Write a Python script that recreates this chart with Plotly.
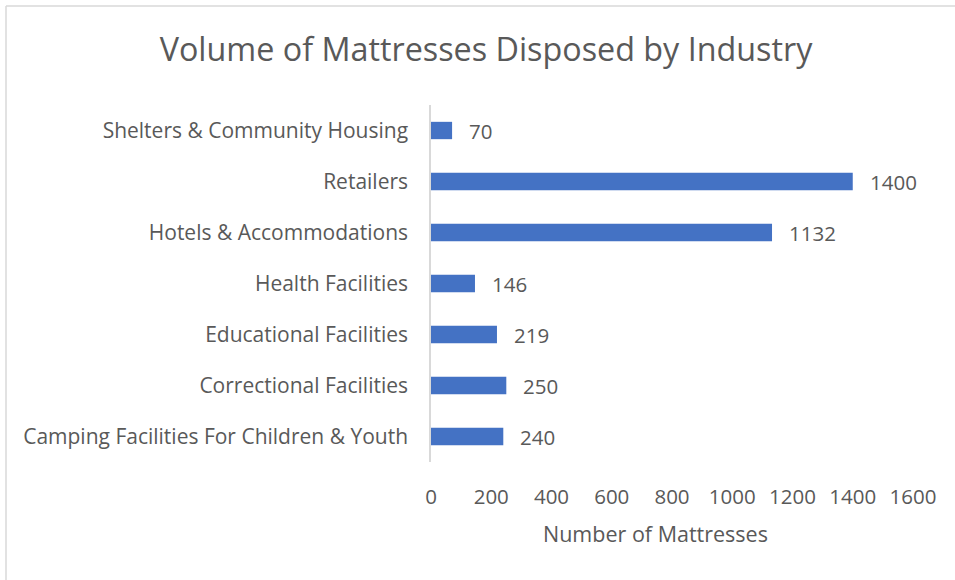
import plotly.graph_objects as go

categories = [
    "Camping Facilities For Children & Youth",
    "Correctional Facilities",
    "Educational Facilities",
    "Health Facilities",
    "Hotels & Accommodations",
    "Retailers",
    "Shelters & Community Housing",
]
values = [240, 250, 219, 146, 1132, 1400, 70]
x_ticks = [0, 200, 400, 600, 800, 1000, 1200, 1400, 1600]

FONT = "Open Sans"
GREY = "#595959"
W, H = 955, 580
L, R, T, B = 431, 42, 105, 118
pw, ph = W - L - R, H - T - B

fig = go.Figure(go.Bar(
    x=values, y=categories, orientation="h",
    marker=dict(color="#4472C4", line=dict(width=0)),
    width=0.34, hoverinfo="x+y",
))

for c, v in zip(categories, values):
    fig.add_annotation(x=v, y=c, xref="x", yref="y", text=str(v),
                       showarrow=False, xanchor="left", xshift=15,
                       font=dict(family=FONT, size=20.5, color=GREY))

fig.add_annotation(xref="paper", yref="paper", x=(655 - L) / pw, y=(T + ph - 533) / ph,
                   text="Number of Mattresses", showarrow=False, xanchor="center", yanchor="middle",
                   font=dict(family=FONT, size=21.5, color=GREY))

bx = (6 - L) / pw
by = 1 + (T - 6) / ph
fig.add_shape(type="line", xref="paper", yref="paper", x0=bx, y0=by, x1=bx, y1=-1,
              line=dict(color="#d9d9d9", width=1.5))
fig.add_shape(type="line", xref="paper", yref="paper", x0=bx, y0=by, x1=2, y1=by,
              line=dict(color="#d9d9d9", width=1.5))

fig.update_layout(
    width=W, height=H,
    margin=dict(l=L, r=R, t=T, b=B),
    paper_bgcolor="white", plot_bgcolor="white",
    title=dict(text="Volume of Mattresses Disposed by Industry", x=486 / W, xref="container",
               xanchor="center", y=1 - 50 / H, yanchor="middle",
               font=dict(family=FONT, size=32.3, color=GREY)),
    xaxis=dict(range=[0, 1600], tickvals=x_ticks, ticktext=[str(t) for t in x_ticks],
               showgrid=False, zeroline=False, showline=False, ticks="",
               ticklabelstandoff=20,
               tickfont=dict(family=FONT, size=20.5, color=GREY)),
    yaxis=dict(showgrid=False, zeroline=False, showline=True, linecolor="#d9d9d9", linewidth=1.5,
               ticks="", ticklabelstandoff=17,
               tickfont=dict(family=FONT, size=21, color=GREY)),
    showlegend=False,
)

fig.write_html("out.html", config={"displayModeBar": False},
               post_script="document.body.style.margin='0';")
